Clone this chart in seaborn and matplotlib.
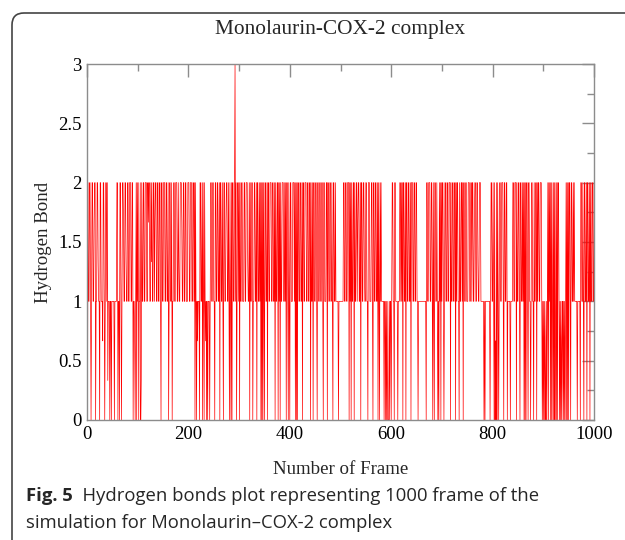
import numpy as np
import pandas as pd
import matplotlib
matplotlib.use("Agg")
import matplotlib.pyplot as plt
import seaborn as sns
from matplotlib.patches import FancyBboxPatch
from matplotlib.ticker import MultipleLocator

# ---------------- data ----------------
title = "Monolaurin-COX-2 complex"
xlabel = "Number of Frame"
ylabel = "Hydrogen Bond"
caption_bold = "Fig. 5"
caption_rest = "  Hydrogen bonds plot representing 1000 frame of the"
caption_line2 = "simulation for Monolaurin\u2013COX-2 complex"
x_ticks = [0, 200, 400, 600, 800, 1000]
y_ticks = [0, 0.5, 1, 1.5, 2, 2.5, 3]
y_tick_labels = ["0", "0.5", "1", "1.5", "2", "2.5", "3"]

# one character per frame; codes for the hydrogen-bond level
level_codes = {"0": 0.0, "a": 1 / 3, "b": 2 / 3, "1": 1.0,
               "c": 4 / 3, "d": 5 / 3, "2": 2.0, "3": 3.0}

hbonds_000_249 = (
    "1021122101 2211d22011 22c1102211 1b22101221 2a11101101"
    "1111011112 2011022101 22d1122c11 2211222112 2011b01202"
    "1201120a21 1221122211 2d22112c21 1221d22112 2112210221"
    "1222112211 2012211201 1221122211 2c11222d11 2211221112"
    "2211222112 21202101b1 1102211202 1021b10101 1101221122"
)
hbonds_250_499 = (
    "1102211221 1202211210 2211d22112 1021020221 1231201221"
    "2021122111 2211222c11 2021122011 2211202211 2120202021"
    "0221120221 1222112211 2021122021 2021122211 2120221021"
    "0221112221 2020202211 2211202211 2221122112 2021120221"
    "1221022112 2112210221 1122022112 2112102211 2111110111"
)
hbonds_500_749 = (
    "1111112211 2211222021 2021122021 1221d22112 0221122c11"
    "2211022211 1221022112 2112021021 2111110110 1010001011"
    "0122110221 1110111221 2120221120 2211221120 2221122112"
    "2110111111 1111111110 2211222112 2102102211 2101021202"
    "1221012211 2211222021 1221122021 2211021122 1202211221"
)
hbonds_750_1000 = (
    "1122211221 2211d22112 2c11222111 1110101111 1111101221"
    "121020b020 2101221122 2102211220 1111101111 2211222021"
    "1221022112 1202020221 0221101221 1021122021 2211222101"
    "0101a01012 0212020210 2020b20202 2101010b10 1010120202"
    "0221022112 1211111011 1110221121 0221120221 12021122112"
)

codes = "".join([hbonds_000_249, hbonds_250_499, hbonds_500_749, hbonds_750_1000]).replace(" ", "")
hbonds = [level_codes[c] for c in codes]
frames = np.arange(len(hbonds))
df = pd.DataFrame({"frame": frames, "hbond": hbonds})

# ---------------- styling ----------------
sns.set_style("white")
plt.rcParams["font.family"] = ["Liberation Serif", "DejaVu Serif"]

W, H = 625, 540
fig = plt.figure(figsize=(W / 100, H / 100), dpi=100)
L, R, T, B = 87, 594, 64, 420
ax = fig.add_axes([L / W, 1 - B / H, (R - L) / W, (B - T) / H])

sns.lineplot(data=df, x="frame", y="hbond", ax=ax, color="#ff0000",
             linewidth=0.5, estimator=None, sort=False)

ax.set_xlim(0, 1000)
ax.set_ylim(0, 3)
ax.set_xticks(x_ticks)
ax.set_xticklabels([str(t) for t in x_ticks])
ax.set_yticks(y_ticks)
ax.set_yticklabels(y_tick_labels)
ax.xaxis.set_minor_locator(MultipleLocator(100))
ax.yaxis.set_minor_locator(MultipleLocator(0.25))

gray = "#8c8c8c"
ax.tick_params(which="both", direction="in", top=True, right=True,
               color=gray, labelcolor="black", labelsize=13.5, width=1)
ax.tick_params(which="major", length=9, pad=4)
ax.tick_params(which="minor", length=5)
for s in ax.spines.values():
    s.set_color(gray)
    s.set_linewidth(1)

ax.set_title(title, fontsize=15.4, y=(B - 38) / (B - T), va="center")
ax.set_xlabel(xlabel, fontsize=13.6)
ax.set_ylabel(ylabel, fontsize=13.6)
ax.xaxis.set_label_coords(0.5, -(469 - B) / (B - T))
ax.yaxis.set_label_coords(-(L - 43) / (R - L), 0.5)
ax.xaxis.label.set_va("center")
ax.yaxis.label.set_va("center")

# caption (sans serif)
cap_font = ["Open Sans", "DejaVu Sans"]
cap_size = 13.3
cap_x = 26
t1 = fig.text(cap_x / W, 1 - 496 / H, caption_bold, family=cap_font, fontsize=cap_size,
              fontweight="bold", va="center", ha="left")
fig.canvas.draw()
bb = t1.get_window_extent(renderer=fig.canvas.get_renderer())
fig.text(bb.x1 / W, 1 - 496 / H, caption_rest, family=cap_font, fontsize=cap_size,
         va="center", ha="left")
fig.text(cap_x / W, 1 - 523 / H, caption_line2, family=cap_font, fontsize=cap_size,
         va="center", ha="left")

# rounded frame of the figure panel
frame_box = FancyBboxPatch((12, -40), 700, H - 13 + 40,
                           boxstyle="round,pad=0,rounding_size=12",
                           transform=None, fill=False, edgecolor="#444444", lw=1.2)
fig.add_artist(frame_box)

fig.savefig("out.png", dpi=100)
